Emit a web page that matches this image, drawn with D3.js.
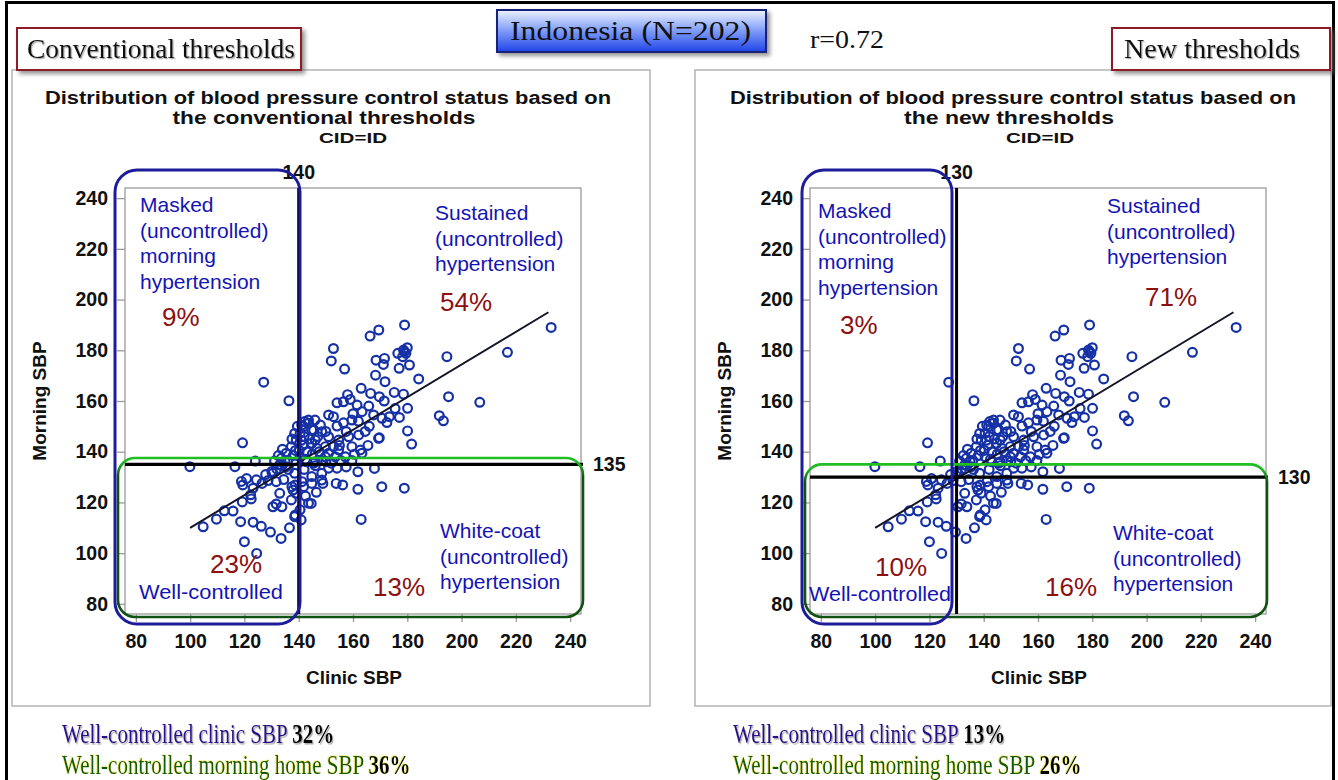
<!DOCTYPE html>
<html>
<head>
<meta charset="utf-8">
<script src="https://cdn.jsdelivr.net/npm/d3@7/dist/d3.min.js"></script>
<style>
  body { margin: 0; background: #fff; }
  svg { display: block; }
</style>
</head>
<body>
<svg id="chart" width="1338" height="780"></svg>
<script>
// ---- data ----
// each pair is [clinic SBP, morning home SBP], same patients in both panels
var sbpPairs = [
  // clinic < 130
  [99.9,134.1],[116.5,134.1],[119.3,143.5],[124,136.3],[127.1,167.4],[127.8,131],
  [104.8,110.4],[109.7,113.4],[112.6,116.7],[115.8,116.6],[118.6,112.4],[123.2,112.2],
  [126.2,110.6],[129.6,108.3],[120,104.5],[124.5,99.9],[119.2,120.2],[122.5,121.4],
  [123.2,125.6],[119.4,126.9],[118.9,128.3],[120.8,129.4],[124.4,128.9],[128.7,128.6],
  [122.3,123],[126.5,127.5],
  // 130 <= clinic < 140
  [136.4,160.1],[133.6,137.4],[131.1,136.3],[137.3,142],[135.4,139.4],[138.5,147.2],
  [139.1,144.6],[138,138.5],[136,136.6],[134,141],[132.5,138.5],[139.5,150],
  [137.5,145],[135,136],[138.8,140.5],
  [130.5,131.5],[131.7,128.2],[133,134.8],[135.4,134.1],[130.1,132.2],[131.9,133.2],
  [133.8,134.5],[136.2,133],[138.7,126.9],[137.5,126.2],[139,123.6],[138.7,115],
  [133.8,118.3],[130.5,118.3],[131.7,119.4],[133,123.6],[137.3,121],[137.9,124.9],
  [138.5,114.4],[133.5,105.8],[136.6,110],[138.5,131.5],[134.5,129],
  // clinic >= 140, morning < 135
  [140.9,113.1],[143.6,119.7],[140.5,117.1],[144.6,119.6],[141.2,128.2],[144.8,127.5],
  [148.9,127.5],[153.8,127.5],[156.2,126.9],[161.8,125.2],[170.6,126.2],[178.9,125.6],
  [163,113.3],[141.8,126.2],[148.5,128.8],[142.5,122.5],[146.5,124],
  [144.8,130.2],[148.5,131.5],[151,133.5],[154.1,133.5],[161.8,132.1],[167.9,133.4],
  [142,133],[146.1,134.5],[157.5,134],
  // clinic >= 140, morning >= 135
  [233,189],[179,190],[169.5,188],[166.3,185.6],[152.8,180.7],[152,175.8],
  [156.9,172.6],[168.5,176.1],[171.6,176.8],[171.2,174.4],[176.5,178.8],[178.6,180.1],
  [179.5,178.8],[178.3,177.5],[180,181],[179,179.5],[180.8,174.2],[177,172.9],
  [184.2,168.7],[194.6,177.5],[216.9,179.2],[168.3,170.2],[171.8,167.6],[169.7,161.7],
  [175.2,163.4],[178.6,162.7],[195.2,161.7],[206.7,159.5],[180.1,157.1],[191.8,154.2],
  [193.3,152.2],[181.6,143],[180.1,148.2],[169.7,145.5],[177.1,153.5],[173.4,153.8],
  [154.1,159.3],[156.5,159.7],[159,160.6],[161.5,158.4],[163.3,155.8],[165.8,158],
  [167.6,154.5],[170.7,153.2],[159.6,152.5],[156.5,151.4],[154.1,150.1],[151,154.5],
  [152.8,153.8],[143.6,152.5],[141.1,150.5],[145.5,148.6],[148.5,147.9],[151,145.9],
  [154.7,144.6],[158.4,145.9],[159.6,142],[162.1,146.6],[163.3,139.4],[162.7,140.7],
  [159.6,136.5],[157.2,138],[154.7,140.7],[152.8,142],[149.8,138],[146.7,141.3],
  [144.8,143.3],[143,140],[140.5,138],[146.1,136],[148.5,136.5],[153.5,138],
  [151,139.4],[140.5,147.2],[141.8,149.9],[143.6,151.2],[144.8,148.6],[146.1,144.6],
  [149.8,142],[142.2,151.9],[144,145],[141.5,142.5],[142.5,137],[145,139],
  [147.5,140],[150,136],[155.5,136.5],[160.5,139],[172.5,151.5],[169.4,145.3],
  [166,150],[164.5,148],[162,152],[157.5,148],[160,155],[148,150.5],
  [150,148],[146,152.5],[155,142.5],[141,144.5],[143,136],[145.5,135.5],
  [152,135.5],[165.5,142.5],[158,162.5],[175.5,157],[171.5,160],[166.5,163],
  [163,165],[147,146],[140.2,140.5],[142,146]
];
var fitEnds = [[100, 110], [232, 195]];
var axisDomain = [76, 244];
var axisTicks = [80, 100, 120, 140, 160, 180, 200, 220, 240];

var headerNames = ["Conventional thresholds", "New thresholds"];
var titleLine2 = ["the conventional thresholds", "the new thresholds"];
var clinicCut = [140, 130];
var morningCut = [135, 130];
var maskedPct = ["9%", "3%"];
var sustainedPct = ["54%", "71%"];
var wellPct = ["23%", "10%"];
var whiteCoatPct = ["13%", "16%"];
var wellClinicPct = ["32%", "13%"];
var wellMorningPct = ["36%", "26%"];

// ---- drawing ----
var svg = d3.select("#chart");
var defs = svg.append("defs");

defs.append("filter").attr("id", "boxShadow")
  .attr("x", "-10%").attr("y", "-20%").attr("width", "130%").attr("height", "160%")
  .append("feDropShadow").attr("dx", 3).attr("dy", 3).attr("stdDeviation", 2)
  .attr("flood-color", "#666").attr("flood-opacity", 0.7);
defs.append("filter").attr("id", "txtShadow")
  .append("feDropShadow").attr("dx", 1.2).attr("dy", 1.2).attr("stdDeviation", 0.6)
  .attr("flood-color", "#888").attr("flood-opacity", 0.7);
defs.append("filter").attr("id", "yellowGlow")
  .append("feDropShadow").attr("dx", -0.8).attr("dy", -0.5).attr("stdDeviation", 0.4)
  .attr("flood-color", "#e0e000").attr("flood-opacity", 0.6);

var btn = defs.append("linearGradient").attr("id", "blueBtn")
  .attr("x1", 0).attr("y1", 0).attr("x2", 0).attr("y2", 1);
btn.append("stop").attr("offset", "0%").attr("stop-color", "#eef3ff");
btn.append("stop").attr("offset", "45%").attr("stop-color", "#88a4f8");
btn.append("stop").attr("offset", "100%").attr("stop-color", "#1f43e8");

var grn = defs.append("linearGradient").attr("id", "greenEdge")
  .attr("x1", 0).attr("y1", 0).attr("x2", 0).attr("y2", 1);
grn.append("stop").attr("offset", "0%").attr("stop-color", "#20c020");
grn.append("stop").attr("offset", "4%").attr("stop-color", "#20b020");
grn.append("stop").attr("offset", "12%").attr("stop-color", "#0f5212");
grn.append("stop").attr("offset", "100%").attr("stop-color", "#0f5212");

function stretch(sel, w) {
  return sel.attr("textLength", w).attr("lengthAdjust", "spacingAndGlyphs");
}

// outer frame of the slide
svg.append("rect").attr("x", 6.5).attr("y", 2.5).attr("width", 1327).attr("height", 800)
  .attr("fill", "none").attr("stroke", "#000").attr("stroke-width", 3);

// per-panel geometry (pixels)
var layout = [
  { px: 12, pw: 638, x0: 125, x1: 581, tc: 328, t2c: 324, cidc: 353,
    hdr: [17, 284, 27, 268],
    blue: [115, 300], green: [118, 583], greenTop: 137.5,
    masked: [140, 212], sust: [435, 220], pctM: [162, 326], pctS: [440, 311],
    white: [440, 538], pctW: [373, 596], pctL: [210, 573], well: [139, 599, 144],
    bottom: 62 },
  { px: 695, pw: 636, x0: 810, x1: 1266, tc: 1013, t2c: 1009, cidc: 1040,
    hdr: [1112, 218, 1124, 176],
    blue: [802, 952], green: [805, 1267], greenTop: 135,
    masked: [818, 218], sust: [1107, 213], pctM: [840, 334], pctS: [1145, 306],
    white: [1113, 540], pctW: [1045, 596], pctL: [875, 576], well: [809, 601, 142],
    bottom: 733 }
];

layout.forEach(function(L, i) {
  var g = svg.append("g");
  var x = d3.scaleLinear().domain(axisDomain).range([L.x0, L.x1]);
  var y = d3.scaleLinear().domain(axisDomain).range([614, 188]);

  // panel
  g.append("rect").attr("x", L.px).attr("y", 70).attr("width", L.pw).attr("height", 636)
    .attr("fill", "#fff").attr("stroke", "#b4b4b4").attr("stroke-width", 1.5);

  // header box
  g.append("rect").attr("x", L.hdr[0]).attr("y", 28).attr("width", L.hdr[1]).attr("height", 42)
    .attr("fill", "#fff").attr("stroke", "#8e1f27").attr("stroke-width", 2)
    .attr("filter", "url(#boxShadow)");
  stretch(g.append("text").attr("x", L.hdr[2]).attr("y", 58)
    .attr("font-family", "Liberation Serif, Times New Roman, serif").attr("font-size", 27)
    .attr("fill", "#111").attr("filter", "url(#txtShadow)")
    .text(headerNames[i]), L.hdr[3]);

  // chart title
  var tt = g.append("g").attr("font-family", "Liberation Sans, Arial, sans-serif")
    .attr("font-weight", "bold").attr("fill", "#111").attr("text-anchor", "middle");
  stretch(tt.append("text").attr("x", L.tc).attr("y", 104).attr("font-size", 18)
    .text("Distribution of blood pressure control status based on"), 566);
  stretch(tt.append("text").attr("x", L.t2c).attr("y", 124).attr("font-size", 18)
    .text(titleLine2[i]), i === 0 ? 303 : 210);
  stretch(tt.append("text").attr("x", L.cidc).attr("y", 143).attr("font-size", 15)
    .text("CID=ID"), 68);

  // plot frame
  g.append("rect").attr("x", L.x0).attr("y", 188).attr("width", L.x1 - L.x0).attr("height", 426)
    .attr("fill", "none").attr("stroke", "#9a9a9a").attr("stroke-width", 1.3);

  // axes
  var ax = g.append("g").attr("transform", "translate(" + L.x0 + ",0)")
    .call(d3.axisLeft(y).tickValues(axisTicks).tickSize(8).tickPadding(9));
  var bx = g.append("g").attr("transform", "translate(0,614)")
    .call(d3.axisBottom(x).tickValues(axisTicks).tickSize(8).tickPadding(12));
  [ax, bx].forEach(function(a) {
    a.select(".domain").remove();
    a.selectAll(".tick line").attr("stroke", "#9a9a9a").attr("stroke-width", 1.3);
    a.selectAll(".tick text").attr("font-family", "Liberation Sans, Arial, sans-serif")
      .attr("font-weight", "bold").attr("font-size", 19.5).attr("fill", "#111");
  });
  g.append("text").attr("x", (L.x0 + L.x1) / 2 + 1).attr("y", 684)
    .attr("text-anchor", "middle").attr("font-family", "Liberation Sans, Arial, sans-serif")
    .attr("font-weight", "bold").attr("font-size", 19).attr("fill", "#111")
    .text("Clinic SBP");
  g.append("text").attr("transform", "translate(" + (L.x0 - 79) + ",401) rotate(-90)")
    .attr("text-anchor", "middle").attr("font-family", "Liberation Sans, Arial, sans-serif")
    .attr("font-weight", "bold").attr("font-size", 19).attr("fill", "#111")
    .text("Morning SBP");

  // points
  g.append("g").selectAll("circle").data(sbpPairs).enter().append("circle")
    .attr("cx", function(d) { return x(d[0]); })
    .attr("cy", function(d) { return y(d[1]); })
    .attr("r", 4.4)
    .attr("fill", "none").attr("stroke", "#1631a6").attr("stroke-width", 2.2);

  // regression line
  g.append("line")
    .attr("x1", x(fitEnds[0][0])).attr("y1", y(fitEnds[0][1]))
    .attr("x2", x(fitEnds[1][0])).attr("y2", y(fitEnds[1][1]))
    .attr("stroke", "#141428").attr("stroke-width", 2);

  // threshold lines
  g.append("line").attr("x1", x(clinicCut[i])).attr("x2", x(clinicCut[i]))
    .attr("y1", 188).attr("y2", 614).attr("stroke", "#000").attr("stroke-width", 3);
  g.append("line").attr("x1", L.x0).attr("x2", L.x1 + 2)
    .attr("y1", y(morningCut[i])).attr("y2", y(morningCut[i]))
    .attr("stroke", "#000").attr("stroke-width", 3.2);
  g.append("text").attr("x", x(clinicCut[i])).attr("y", 179).attr("text-anchor", "middle")
    .attr("font-family", "Liberation Sans, Arial, sans-serif").attr("font-weight", "bold")
    .attr("font-size", 19.5).attr("fill", "#111").text(clinicCut[i]);
  g.append("text").attr("x", L.x1 + 12).attr("y", y(morningCut[i]) + 7)
    .attr("font-family", "Liberation Sans, Arial, sans-serif").attr("font-weight", "bold")
    .attr("font-size", 19.5).attr("fill", "#111").text(morningCut[i]);

  // green (controlled morning) and blue (controlled clinic) boxes
  var gt = y(L.greenTop);
  g.append("rect").attr("x", L.green[0]).attr("y", gt)
    .attr("width", L.green[1] - L.green[0]).attr("height", 617 - gt)
    .attr("rx", 17).attr("fill", "none").attr("stroke", "url(#greenEdge)").attr("stroke-width", 2.6);
  g.append("rect").attr("x", L.blue[0]).attr("y", 170)
    .attr("width", L.blue[1] - L.blue[0]).attr("height", 454)
    .attr("rx", 22).attr("fill", "none").attr("stroke", "#1d1d9c").attr("stroke-width", 3);

  // quadrant labels
  var lab = g.append("g").attr("font-family", "Liberation Sans, Arial, sans-serif");
  function blueLines(pos, lines) {
    lines.forEach(function(t, k) {
      lab.append("text").attr("x", pos[0]).attr("y", pos[1] + k * 25.5)
        .attr("font-size", 21).attr("fill", "#1414b4").text(t);
    });
  }
  function pct(pos, t) {
    lab.append("text").attr("x", pos[0]).attr("y", pos[1])
      .attr("font-size", 26).attr("fill", "#8c1010").text(t);
  }
  blueLines(L.masked, ["Masked", "(uncontrolled)", "morning", "hypertension"]);
  blueLines(L.sust, ["Sustained", "(uncontrolled)", "hypertension"]);
  blueLines(L.white, ["White-coat", "(uncontrolled)", "hypertension"]);
  stretch(lab.append("text").attr("x", L.well[0]).attr("y", L.well[1])
    .attr("font-size", 21).attr("fill", "#1414b4").text("Well-controlled"), L.well[2]);
  pct(L.pctM, maskedPct[i]);
  pct(L.pctS, sustainedPct[i]);
  pct(L.pctW, whiteCoatPct[i]);
  pct(L.pctL, wellPct[i]);

  // summary lines under the panel: narrow serif, drawn tall
  var serif = "Liberation Serif, Times New Roman, serif";
  function summary(yBase, label, color, value, glow) {
    var t = g.append("g").attr("transform", "translate(" + L.bottom + "," + yBase + ") scale(1,1.3)")
      .append("text").attr("x", 0).attr("y", 0)
      .attr("font-family", serif).attr("font-size", 21).attr("filter", glow);
    t.append("tspan").attr("fill", color).text(label + " ");
    t.append("tspan").attr("fill", "#000").attr("font-weight", "bold").text(value);
  }
  summary(743, "Well-controlled clinic SBP", "#2a0c8c", wellClinicPct[i], "url(#txtShadow)");
  summary(774, "Well-controlled morning home SBP", "#0a5a0a", wellMorningPct[i], "url(#yellowGlow)");
});

// centre header
svg.append("rect").attr("x", 497).attr("y", 10).attr("width", 269).attr("height", 42)
  .attr("fill", "url(#blueBtn)").attr("stroke", "#17207a").attr("stroke-width", 2)
  .attr("filter", "url(#boxShadow)");
stretch(svg.append("text").attr("x", 510).attr("y", 40)
  .attr("font-family", "Liberation Serif, Times New Roman, serif").attr("font-size", 27)
  .attr("fill", "#111").text("Indonesia (N=202)"), 241);
stretch(svg.append("text").attr("x", 810).attr("y", 48)
  .attr("font-family", "Liberation Serif, Times New Roman, serif").attr("font-size", 25)
  .attr("fill", "#111").text("r=0.72"), 74);
</script>
</body>
</html>
